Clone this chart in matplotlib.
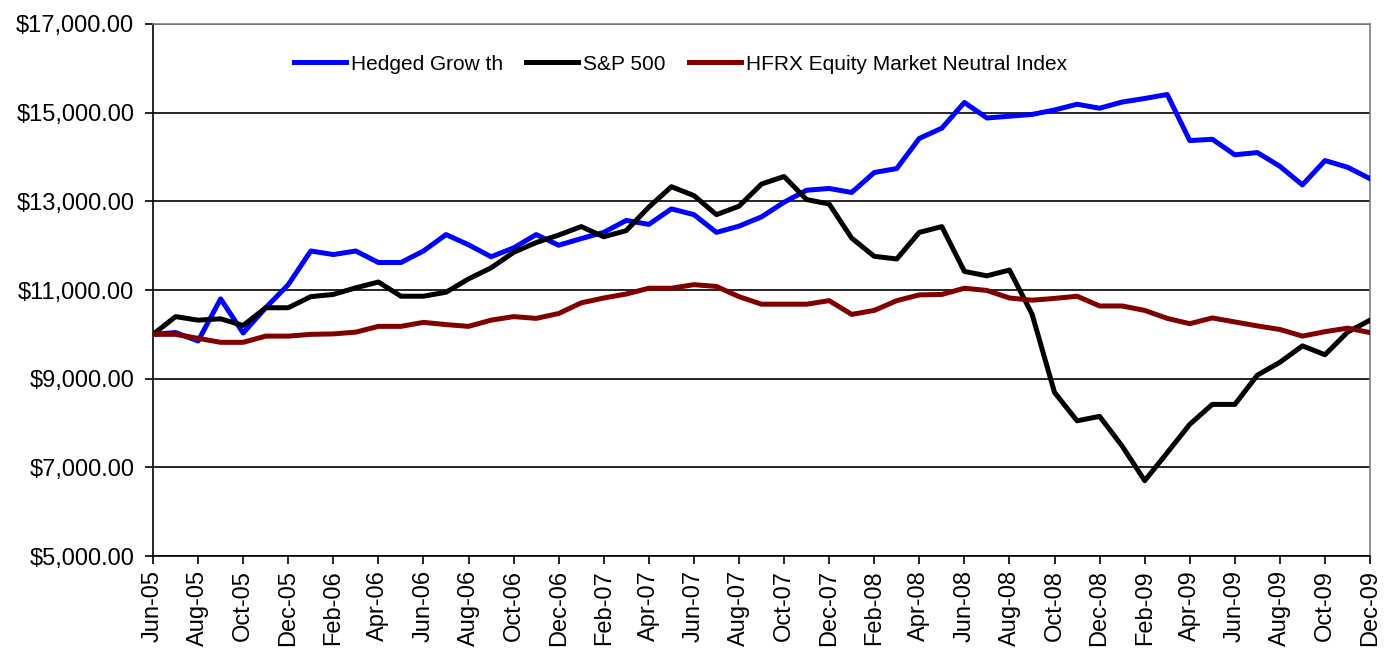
import matplotlib.pyplot as plt
import numpy as np

plt.rcParams['font.family'] = ['Liberation Sans', 'DejaVu Sans']

# monthly values, Jun-05 .. Dec-09
months = ["Jun-05", "Jul-05", "Aug-05", "Sep-05", "Oct-05", "Nov-05", "Dec-05",
          "Jan-06", "Feb-06", "Mar-06", "Apr-06", "May-06", "Jun-06", "Jul-06",
          "Aug-06", "Sep-06", "Oct-06", "Nov-06", "Dec-06", "Jan-07", "Feb-07",
          "Mar-07", "Apr-07", "May-07", "Jun-07", "Jul-07", "Aug-07", "Sep-07",
          "Oct-07", "Nov-07", "Dec-07", "Jan-08", "Feb-08", "Mar-08", "Apr-08",
          "May-08", "Jun-08", "Jul-08", "Aug-08", "Sep-08", "Oct-08", "Nov-08",
          "Dec-08", "Jan-09", "Feb-09", "Mar-09", "Apr-09", "May-09", "Jun-09",
          "Jul-09", "Aug-09", "Sep-09", "Oct-09", "Nov-09", "Dec-09"]

hedged = [10000, 10040, 9850, 10800, 10030, 10600, 11120, 11880, 11800, 11880,
          11620, 11620, 11880, 12250, 12020, 11750, 11950, 12250, 12010, 12160,
          12300, 12570, 12480, 12830, 12700, 12300, 12440, 12650, 12980, 13250,
          13290, 13200, 13650, 13740, 14420, 14650, 15230, 14880, 14920, 14960,
          15060, 15190, 15100, 15240, 15320, 15410, 14370, 14400, 14050, 14100,
          13790, 13370, 13920, 13770, 13510]

sp500 = [10000, 10400, 10320, 10350, 10200, 10600, 10600, 10850, 10900, 11050,
         11180, 10860, 10860, 10950, 11250, 11500, 11850, 12070, 12240, 12430,
         12200, 12340, 12870, 13330, 13130, 12700, 12890, 13390, 13560, 13040,
         12940, 12170, 11760, 11700, 12300, 12430, 11420, 11320, 11450, 10460,
         8690, 8050, 8150, 7480, 6700, 7330, 7970, 8420, 8420, 9080,
         9370, 9740, 9540, 10050, 10320]

hfrx = [10000, 10000, 9910, 9820, 9820, 9960, 9960, 10000, 10010, 10050,
        10180, 10180, 10270, 10220, 10180, 10320, 10400, 10360, 10470, 10710,
        10820, 10910, 11040, 11040, 11120, 11080, 10850, 10680, 10680, 10680,
        10760, 10450, 10540, 10760, 10890, 10900, 11040, 10990, 10820, 10770,
        10810, 10860, 10640, 10640, 10540, 10360, 10240, 10370, 10280, 10190,
        10110, 9960, 10060, 10140, 10040]

y_ticks = [5000, 7000, 9000, 11000, 13000, 15000, 17000]

x = np.arange(len(months))

fig = plt.figure(figsize=(13.86, 6.52), dpi=100)
ax = fig.add_axes([0.1104, 0.1472, 0.8781, 0.8160])

ax.plot(x, hedged, color='#0000FF', lw=3.6, label="Hedged Grow th", zorder=3)
ax.plot(x, sp500, color='black', lw=3.6, label="S&P 500", zorder=4)
ax.plot(x, hfrx, color='#800000', lw=3.6, label="HFRX Equity Market Neutral Index", zorder=5)

ax.set_xlim(0, len(months) - 1)
ax.set_ylim(5000, 17000)
ax.set_yticks(y_ticks)
ax.set_yticklabels(["${:,.2f}".format(v) for v in y_ticks], fontsize=17)
ax.set_xticks(x[::2])
ax.set_xticklabels(months[::2], rotation=90, fontsize=17)

ax.yaxis.grid(True, color='black', lw=1.2)
ax.set_axisbelow(True)
ax.tick_params(axis='both', direction='out', length=5.5, width=1.2, color='black')
ax.tick_params(axis='x', pad=4.5)
ax.tick_params(axis='y', pad=8)

for side in ['left', 'bottom']:
    ax.spines[side].set_color('black')
    ax.spines[side].set_linewidth(1.2)
for side in ['right', 'top']:
    ax.spines[side].set_color('#808080')
    ax.spines[side].set_linewidth(1.2)

ax.legend(loc='center', bbox_to_anchor=(0.4334, 0.9248), ncol=3, frameon=False,
          fontsize=15, handlelength=2.5, handletextpad=0.25, columnspacing=1.1)

fig.savefig("out.png", dpi=100)
